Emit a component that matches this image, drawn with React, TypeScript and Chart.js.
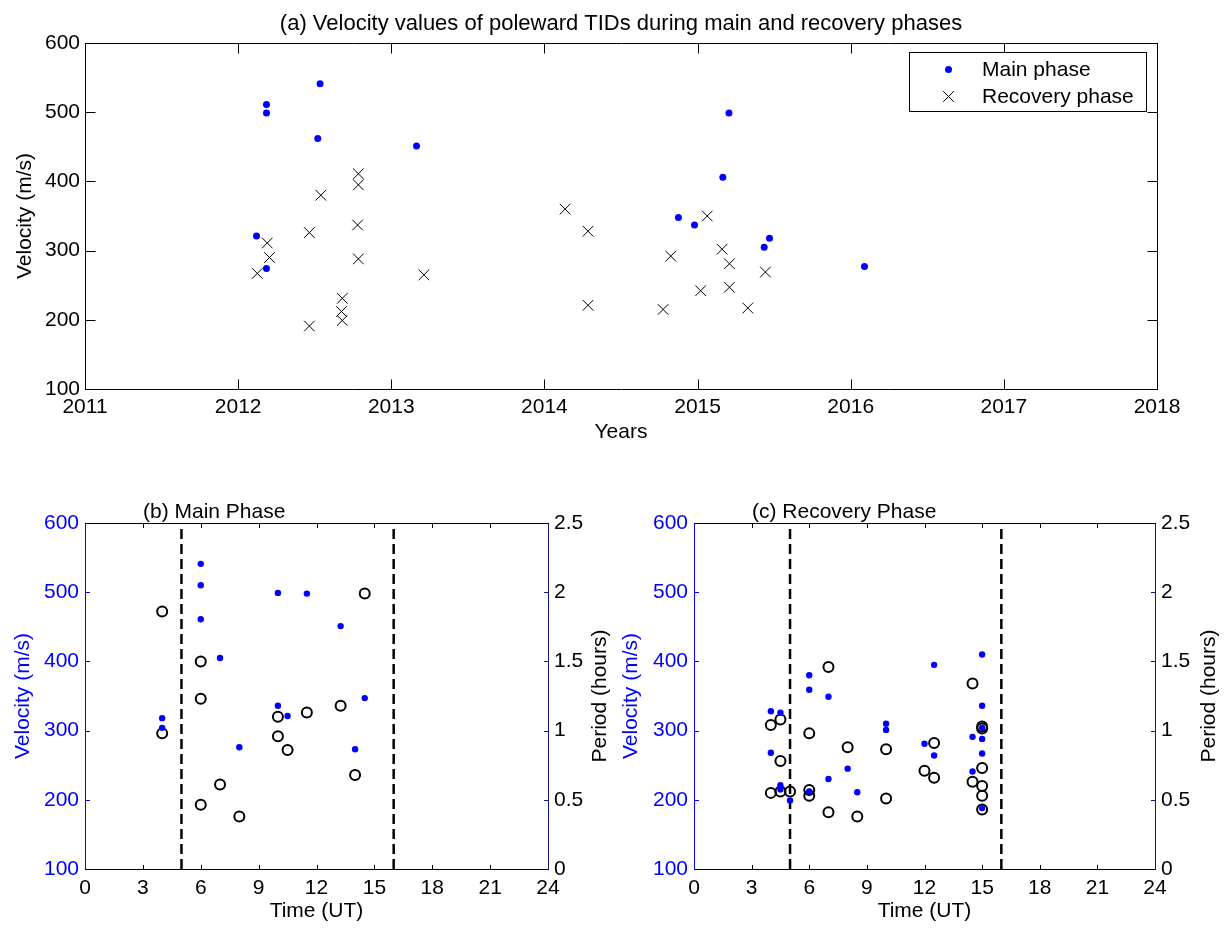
import React, { useEffect, useRef } from 'react';
import { Chart, registerables } from 'chart.js';

Chart.register(...registerables);

const FONT_FAMILY = "'Liberation Sans', Arial, Helvetica, sans-serif";
Chart.defaults.font.family = FONT_FAMILY;
Chart.defaults.color = '#000';

// ---------------- data ----------------
const yearTicks = [2011, 2012, 2013, 2014, 2015, 2016, 2017, 2018];
const velocityTicks = [100, 200, 300, 400, 500, 600];
const periodTicks = [0, 0.5, 1, 1.5, 2, 2.5];
const utTicks = [0, 3, 6, 9, 12, 15, 18, 21, 24];
const phaseBoundsUT = [5, 16];

const seriesNames = ['Main phase', 'Recovery phase'];

// (a) velocity vs year
const mainYears = [2012.12, 2012.185, 2012.185, 2012.185, 2012.52, 2012.535, 2013.165, 2014.875, 2014.98, 2015.165, 2015.205, 2015.435, 2015.47, 2016.09];
const mainVelocity = [321, 274, 499, 511, 462, 541, 451, 348, 337, 406, 499, 305, 318, 277];

const recoveryYears = [2012.125, 2012.19, 2012.205, 2012.465, 2012.465, 2012.54, 2012.675, 2012.68, 2012.68, 2012.78, 2012.785, 2012.785, 2012.785, 2013.213, 2014.135, 2014.285, 2014.285, 2014.775, 2014.825, 2015.02, 2015.063, 2015.16, 2015.208, 2015.208, 2015.328, 2015.443];
const recoveryVelocity = [267, 311, 290, 326, 191, 380, 212, 231, 199, 337, 411, 395, 288, 265, 360, 328, 221, 215, 292, 242, 350, 302, 281, 247, 217, 269];

// (b) main phase vs UT
const mainUT = [4, 4, 6, 6, 6, 7, 8, 10, 10, 10.5, 11.5, 13.25, 14, 14.5];
const mainUTVelocity = [318, 304, 541, 510, 461, 405, 276, 499, 336, 321, 498, 451, 273, 347];
const mainPeriod = [1.86, 0.98, 1.5, 1.23, 0.465, 0.61, 0.38, 1.1, 0.96, 0.86, 1.13, 1.18, 0.68, 1.99];

// (c) recovery phase vs UT
const recoveryUT = [4, 4, 4.5, 4.5, 4.5, 5, 6, 6, 6, 7, 7, 8, 8.5, 10, 10, 12, 12.5, 12.5, 14.5, 14.5, 15, 15, 15, 15, 15, 15];
const recoveryUTVelocity = [328, 268, 326, 221, 215, 199, 380, 359, 212, 349, 230, 245, 211, 310, 301, 281, 395, 264, 291, 241, 410, 336, 304, 288, 267, 188];
const recoveryPeriod = [1.04, 0.55, 1.08, 0.78, 0.56, 0.56, 0.98, 0.57, 0.53, 1.46, 0.41, 0.88, 0.38, 0.865, 0.51, 0.71, 0.91, 0.66, 1.34, 0.63, 1.03, 1.015, 0.73, 0.6, 0.53, 0.43];

const titleA = '(a) Velocity values of poleward TIDs during main and recovery phases';
const titleB = '(b) Main Phase';
const titleC = '(c) Recovery Phase';
const labelYears = 'Years';
const labelVelocity = 'Velocity (m/s)';
const labelPeriod = 'Period (hours)';
const labelTime = 'Time (UT)';

// ---------------- styles ----------------
const BLUE = '#0000ff';
const NAVY = '#14147a';
const FS = 21;
const font = { family: FONT_FAMILY, size: FS, lineHeight: 1.2 };

const zip = (xs: number[], ys: number[]) => xs.map((x, i) => ({ x, y: ys[i] }));
const fixedTicks = (vals: number[]) => (s: any) => {
  s.ticks = vals.map((value) => ({ value }));
};
const str = (v: any) => String(v);
const noGrid = { display: false, drawTicks: false, drawOnChartArea: false };

type Side = { key: string; color: string };

function framePlugin(id: string, tickLen: number, left: Side, right: Side) {
  return {
    id,
    afterDraw(chart: any) {
      const { ctx, chartArea: a, scales } = chart;
      const px = (v: number) => Math.round(v) + 0.5;
      const L = px(a.left);
      const R = px(a.right);
      const T = px(a.top);
      const B = px(a.bottom);
      ctx.save();
      ctx.lineWidth = 1;
      const seg = (x1: number, y1: number, x2: number, y2: number, c: string) => {
        ctx.strokeStyle = c;
        ctx.beginPath();
        ctx.moveTo(x1, y1);
        ctx.lineTo(x2, y2);
        ctx.stroke();
      };
      const xs = scales.x;
      xs.ticks.forEach((t: any) => {
        const x = px(xs.getPixelForValue(t.value));
        seg(x, B, x, B - tickLen, '#000');
        seg(x, T, x, T + tickLen, '#000');
      });
      const ls = scales[left.key];
      ls.ticks.forEach((t: any) => {
        const y = px(ls.getPixelForValue(t.value));
        seg(L, y, L + tickLen, y, left.color);
      });
      const rs = scales[right.key];
      rs.ticks.forEach((t: any) => {
        const y = px(rs.getPixelForValue(t.value));
        seg(R, y, R - tickLen, y, right.color);
      });
      seg(L - 0.5, T, R + 0.5, T, '#000');
      seg(L - 0.5, B, R + 0.5, B, '#000');
      seg(L, T, L, B + 0.5, left.color);
      seg(R, T, R, B + 0.5, right.color);
      ctx.restore();
    },
  };
}

type TextItem = {
  text: string;
  x: (a: any) => number;
  y: (a: any) => number;
  rot?: number;
  color?: string;
  size?: number;
  align?: CanvasTextAlign;
  baseline?: CanvasTextBaseline;
};

function textPlugin(id: string, items: TextItem[]) {
  return {
    id,
    afterDraw(chart: any) {
      const { ctx, chartArea: a } = chart;
      items.forEach((it) => {
        ctx.save();
        ctx.font = `${it.size || FS}px ${FONT_FAMILY}`;
        ctx.fillStyle = it.color || '#000';
        ctx.textAlign = it.align || 'center';
        ctx.textBaseline = it.baseline || 'middle';
        ctx.translate(it.x(a), it.y(a));
        if (it.rot) ctx.rotate(it.rot);
        ctx.fillText(it.text, 0, 0);
        ctx.restore();
      });
    },
  };
}

function legendPlugin(box: { x: number; y: number; w: number; h: number }, markerX: number, textX: number, rows: number[]) {
  return {
    id: 'boxLegend',
    afterDraw(chart: any) {
      const { ctx } = chart;
      ctx.save();
      ctx.fillStyle = '#fff';
      ctx.fillRect(box.x, box.y, box.w, box.h);
      ctx.strokeStyle = '#000';
      ctx.lineWidth = 1;
      ctx.strokeRect(box.x + 0.5, box.y + 0.5, box.w, box.h);
      chart.data.datasets.forEach((ds: any, i: number) => {
        const y = rows[i];
        const r = ds.pointRadius;
        if (ds.pointStyle === 'crossRot') {
          const o = r * Math.SQRT1_2;
          ctx.strokeStyle = ds.borderColor;
          ctx.lineWidth = ds.borderWidth;
          ctx.beginPath();
          ctx.moveTo(markerX - o, y - o);
          ctx.lineTo(markerX + o, y + o);
          ctx.moveTo(markerX + o, y - o);
          ctx.lineTo(markerX - o, y + o);
          ctx.stroke();
        } else {
          ctx.fillStyle = ds.backgroundColor;
          ctx.beginPath();
          ctx.arc(markerX, y, r, 0, Math.PI * 2);
          ctx.fill();
        }
        ctx.fillStyle = '#000';
        ctx.font = `${FS}px ${FONT_FAMILY}`;
        ctx.textAlign = 'left';
        ctx.textBaseline = 'middle';
        ctx.fillText(ds.label, textX, y + 1);
      });
      ctx.restore();
    },
  };
}

const baseOptions = {
  responsive: false,
  animation: false,
  devicePixelRatio: 1,
  events: [],
  plugins: { legend: { display: false }, tooltip: { enabled: false }, title: { display: false } },
};

function makeTop() {
  return {
    type: 'scatter',
    data: {
      datasets: [
        {
          label: seriesNames[0],
          data: zip(mainYears, mainVelocity),
          pointStyle: 'circle',
          pointRadius: 3.5,
          backgroundColor: BLUE,
          borderColor: BLUE,
          borderWidth: 0,
        },
        {
          label: seriesNames[1],
          data: zip(recoveryYears, recoveryVelocity),
          pointStyle: 'crossRot',
          pointRadius: 7.5,
          backgroundColor: '#000',
          borderColor: '#000',
          borderWidth: 1,
        },
      ],
    },
    options: {
      ...baseOptions,
      layout: { padding: { left: 0, right: 69, top: 43, bottom: 11 } },
      scales: {
        x: {
          type: 'linear',
          position: 'bottom',
          min: yearTicks[0],
          max: yearTicks[yearTicks.length - 1],
          afterBuildTicks: fixedTicks(yearTicks),
          afterFit: (s: any) => {
            s.height = 60;
            s.paddingLeft = 0;
            s.paddingRight = 0;
          },
          grid: noGrid,
          border: { display: false },
          ticks: { callback: str, font, color: '#000', padding: 6, maxRotation: 0, autoSkip: false },
          title: { display: true, text: labelYears, font, color: '#000', padding: { top: 0, bottom: 4.4 } },
        },
        y: {
          type: 'linear',
          position: 'left',
          min: velocityTicks[0],
          max: velocityTicks[velocityTicks.length - 1],
          afterBuildTicks: fixedTicks(velocityTicks),
          afterFit: (s: any) => {
            s.width = 85;
            s.paddingTop = 0;
            s.paddingBottom = 0;
          },
          grid: noGrid,
          border: { display: false },
          ticks: { callback: str, font, color: '#000', padding: 5, autoSkip: false },
          title: { display: true, text: labelVelocity, font, color: '#000', padding: { top: 12.4, bottom: 0 } },
        },
      },
    },
    plugins: [
      framePlugin('frameA', 10, { key: 'y', color: '#000' }, { key: 'y', color: '#000' }),
      legendPlugin({ x: 909, y: 52, w: 237, h: 59 }, 948.5, 982, [69.5, 96.5]),
      textPlugin('titleA', [
        { text: titleA, x: (a) => (a.left + a.right) / 2, y: () => 29.5, baseline: 'alphabetic', size: 22 },
      ]),
    ],
  };
}

function makeUT(
  ut: number[],
  vel: number[],
  per: number[],
  yWidth: number,
  y1Width: number,
  yTitlePad: number,
  title: string,
  periodTitleX: number,
) {
  return {
    type: 'scatter',
    data: {
      datasets: [
        {
          label: 'Velocity',
          data: zip(ut, vel),
          yAxisID: 'y',
          pointStyle: 'circle',
          pointRadius: 3.2,
          backgroundColor: BLUE,
          borderColor: BLUE,
          borderWidth: 0,
        },
        {
          label: 'Period',
          data: zip(ut, per),
          yAxisID: 'y1',
          pointStyle: 'circle',
          pointRadius: 5,
          backgroundColor: 'rgba(0,0,0,0)',
          borderColor: '#000',
          borderWidth: 2,
        },
        ...phaseBoundsUT.map((b) => ({
          label: 'Phase boundary',
          data: [
            { x: b, y: velocityTicks[0] },
            { x: b, y: velocityTicks[velocityTicks.length - 1] },
          ],
          yAxisID: 'y',
          showLine: true,
          pointRadius: 0,
          borderColor: '#000',
          borderWidth: 2.5,
          borderDash: [10, 5],
        })),
      ],
    },
    options: {
      ...baseOptions,
      layout: { padding: { left: 0, right: 0, top: 43, bottom: 5 } },
      scales: {
        x: {
          type: 'linear',
          position: 'bottom',
          min: utTicks[0],
          max: utTicks[utTicks.length - 1],
          afterBuildTicks: fixedTicks(utTicks),
          afterFit: (s: any) => {
            s.height = 55;
            s.paddingLeft = 0;
            s.paddingRight = 0;
          },
          grid: noGrid,
          border: { display: false },
          ticks: { callback: str, font, color: '#000', padding: 7, maxRotation: 0, autoSkip: false },
          title: { display: true, text: labelTime, font, color: '#000', padding: { top: 0, bottom: 0 } },
        },
        y: {
          type: 'linear',
          position: 'left',
          min: velocityTicks[0],
          max: velocityTicks[velocityTicks.length - 1],
          afterBuildTicks: fixedTicks(velocityTicks),
          afterFit: (s: any) => {
            s.width = yWidth;
            s.paddingTop = 0;
            s.paddingBottom = 0;
          },
          grid: noGrid,
          border: { display: false },
          ticks: { callback: str, font, color: BLUE, padding: 6, autoSkip: false },
          title: { display: true, text: labelVelocity, font, color: BLUE, padding: { top: yTitlePad, bottom: 0 } },
        },
        y1: {
          type: 'linear',
          position: 'right',
          min: periodTicks[0],
          max: periodTicks[periodTicks.length - 1],
          afterBuildTicks: fixedTicks(periodTicks),
          afterFit: (s: any) => {
            s.width = y1Width;
            s.paddingTop = 0;
            s.paddingBottom = 0;
          },
          grid: noGrid,
          border: { display: false },
          ticks: { callback: str, font, color: '#000', padding: 6, autoSkip: false },
        },
      },
    },
    plugins: [
      framePlugin('frameUT', 4.5, { key: 'y', color: BLUE }, { key: 'y1', color: NAVY }),
      textPlugin('textsUT', [
        { text: title, x: (a) => a.left + 58, y: () => 38, align: 'left', baseline: 'alphabetic' },
        {
          text: labelPeriod,
          x: () => periodTitleX,
          y: (a) => (a.top + a.bottom) / 2,
          rot: -Math.PI / 2,
        },
      ]),
    ],
  };
}

function ChartCanvas({ make, left, top, width, height }: { make: () => any; left: number; top: number; width: number; height: number }) {
  const ref = useRef<HTMLCanvasElement>(null);
  useEffect(() => {
    const chart = new Chart(ref.current as HTMLCanvasElement, make() as any);
    return () => chart.destroy();
  }, []);
  return (
    <canvas
      ref={ref}
      width={width}
      height={height}
      style={{ position: 'absolute', left, top, width, height, display: 'block' }}
    />
  );
}

export default function App() {
  return (
    <div style={{ position: 'fixed', left: 0, top: 0, width: 1226, height: 929, background: '#fff', overflow: 'hidden' }}>
      <ChartCanvas make={makeTop} left={0} top={0} width={1226} height={460} />
      <ChartCanvas
        make={() => makeUT(mainUT, mainUTVelocity, mainPeriod, 85, 65, 10.4, titleB, 600)}
        left={0}
        top={480}
        width={613}
        height={449}
      />
      <ChartCanvas
        make={() => makeUT(recoveryUT, recoveryUTVelocity, recoveryPeriod, 81, 71, 5.5, titleC, 596)}
        left={613}
        top={480}
        width={613}
        height={449}
      />
    </div>
  );
}
